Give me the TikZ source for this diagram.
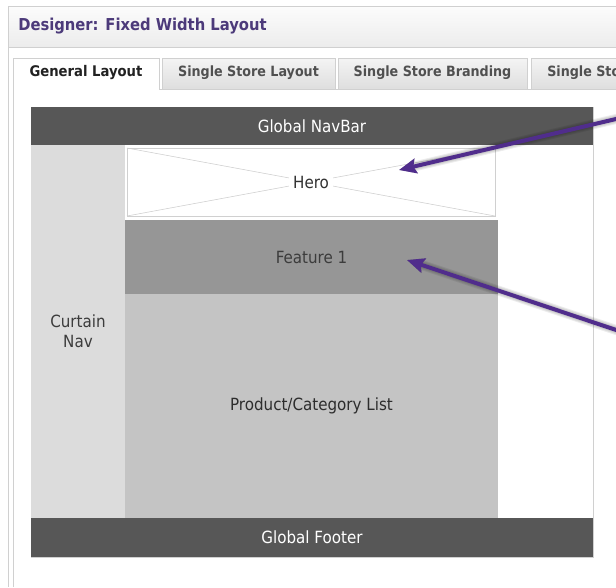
\documentclass[tikz,border=0pt]{standalone}
\usepackage{fontspec}
\setmainfont{DejaVu Sans Condensed}
\usetikzlibrary{arrows.meta}

\definecolor{titlepurple}{RGB}{76,58,122}
\definecolor{pointerpurple}{RGB}{80,45,140}
\definecolor{framegray}{RGB}{208,208,208}
\definecolor{bardark}{RGB}{87,87,87}
\definecolor{curtaingray}{RGB}{220,220,220}
\definecolor{featuregray}{RGB}{150,150,150}
\definecolor{listgray}{RGB}{196,196,196}
\definecolor{xgray}{RGB}{205,205,205}
\definecolor{tabtext}{RGB}{80,80,80}

\tikzset{
  block/.style={inner sep=0pt, outer sep=0pt, anchor=north west},
  lbl/.style={font=\fontsize{12.6}{15}\selectfont},
  bar/.style={fill=bardark, text=white, lbl},
  tabbox/.style={draw=framegray, top color={rgb,255:red,244;green,244;blue,244},
    bottom color={rgb,255:red,222;green,222;blue,222}},
  tablabel/.style={font=\bfseries\fontsize{10.6}{13}\selectfont, text=tabtext},
  pointer/.style={draw=pointerpurple, line width=3pt,
    -{Stealth[length=13pt,width=11pt,inset=2pt]}},
  pointershadow/.style={draw=black, line width=#1, opacity=0.07, line cap=round,
    -{Stealth[length=13pt,width=11pt,inset=2pt]}},
}

\begin{document}
\begin{tikzpicture}[x=0.75pt,y=-0.75pt]
\useasboundingbox (0,0) rectangle (616,587);
\fill[white] (0,0) rectangle (616,587);

% window header
\shade[top color={rgb,255:red,252;green,252;blue,252},
       bottom color={rgb,255:red,236;green,236;blue,236}] (8,6) rectangle (616,47);
\draw[framegray] (616,6) -- (8,6) -- (8,587);
\draw[framegray] (8,47) -- (616,47);
\node[font=\bfseries\fontsize{12.3}{14}\selectfont, text=titlepurple, anchor=west, inner sep=0pt]
  (title) at (18,26) {Designer: Fixed Width Layout};

% tab strip
\draw[framegray] (159,89) -- (616,89);
\fill[white] (13,58) rectangle (159,89);
\draw[framegray] (13,587) -- (13,58) -- (159,58) -- (159,89);
\node[font=\bfseries\fontsize{11}{13}\selectfont, text={rgb,255:red,34;green,34;blue,34}]
  (tabGeneral) at (86,73) {General Layout};
\draw[tabbox] (162,58) rectangle (335,89);
\node[tablabel] (tabLayout) at (248.5,73) {Single Store Layout};
\draw[tabbox] (338,58) rectangle (527,89);
\node[tablabel] (tabBranding) at (432.5,73) {Single Store Branding};
\draw[tabbox] (531,58) rectangle (640,89);
\begin{scope}
  \clip (531,58) rectangle (616,89);
  \node[tablabel, anchor=west, inner sep=0pt] (tabMore) at (547,73) {Single Store Theme};
\end{scope}

% page layout
\draw[framegray] (31,107) rectangle (593,557);
\node[block, bar, minimum width=562*0.75pt, minimum height=38*0.75pt]
  (navbar) at (31,107) {Global NavBar};
\node[block, fill=curtaingray, minimum width=94*0.75pt, minimum height=373*0.75pt,
  align=center, text={rgb,255:red,60;green,60;blue,60}, font=\fontsize{12.6}{15}\selectfont]
  (curtain) at (31,145) {Curtain\\Nav};
\node[block, draw=framegray, fill=white, minimum width=368*0.75pt, minimum height=68*0.75pt]
  (hero) at (127,148) {};
\draw[xgray] (hero.north west) -- (hero.south east);
\draw[xgray] (hero.south west) -- (hero.north east);
\node[fill=white, inner sep=3pt, text={rgb,255:red,50;green,50;blue,50}, lbl]
  (heroLabel) at (hero.center) {Hero};
\node[block, fill=featuregray, minimum width=373*0.75pt, minimum height=74*0.75pt,
  text={rgb,255:red,60;green,60;blue,60}, lbl]
  (feature) at (125,220) {Feature 1};
\node[block, fill=listgray, minimum width=373*0.75pt, minimum height=224*0.75pt,
  text={rgb,255:red,45;green,45;blue,45}, lbl]
  (list) at (125,294) {Product/Category List};
\node[block, bar, minimum width=562*0.75pt, minimum height=39*0.75pt]
  (footer) at (31,518) {Global Footer};

% callout pointers
\coordinate (heroFrom) at (630,115.7);
\coordinate (heroTip) at (399,170);
\coordinate (featureFrom) at (630,334.6);
\coordinate (featureTip) at (407,260);
\foreach \w in {7.5pt,6pt,4.5pt}{
  \begin{scope}[shift={(1.5,3.5)}]
    \draw[pointershadow=\w] (heroFrom) -- (heroTip);
    \draw[pointershadow=\w] (featureFrom) -- (featureTip);
  \end{scope}
}
\draw[pointer] (heroFrom) -- (heroTip);
\draw[pointer] (featureFrom) -- (featureTip);
\end{tikzpicture}
\end{document}
